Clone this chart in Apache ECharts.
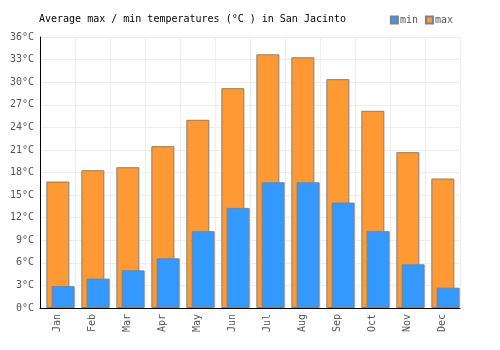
<!DOCTYPE html>
<html><head><meta charset="utf-8">
<script src="https://cdn.jsdelivr.net/npm/echarts@6/dist/echarts.min.js"></script>
<style>html,body{margin:0;padding:0;background:#fff}#c{width:500px;height:350px}</style>
</head><body><div id="c"></div>
<script>
const months = ['Jan','Feb','Mar','Apr','May','Jun','Jul','Aug','Sep','Oct','Nov','Dec'];
const minTemps = [2.9, 3.9, 5.0, 6.6, 10.2, 13.3, 16.7, 16.7, 14.0, 10.2, 5.8, 2.7];
const maxTemps = [16.8, 18.3, 18.7, 21.5, 25.0, 29.2, 33.7, 33.3, 30.4, 26.2, 20.7, 17.2];
const yTicks = [0, 3, 6, 9, 12, 15, 18, 21, 24, 27, 30, 33, 36];

const font = 'DejaVu Sans Mono';
const chart = echarts.init(document.getElementById('c'), null, {renderer: 'canvas'});
chart.setOption({
  animation: false,
  title: {
    text: 'Average max / min temperatures (°C ) in San Jacinto',
    left: 34, top: 9,
    textStyle: {fontFamily: font, fontSize: 10, fontWeight: 'normal', color: '#000'}
  },
  legend: {
    data: ['min', 'max'],
    right: 42, top: 10,
    icon: 'rect', itemWidth: 7, itemHeight: 7, itemGap: 7,
    textStyle: {fontFamily: font, fontSize: 10, color: '#555', padding: [0, 0, 0, -3]}
  },
  grid: [
    {left: 40, right: 40, top: 37, bottom: 42, containLabel: false},
    {left: 43, right: 37, top: 37, bottom: 42, containLabel: false}
  ],
  xAxis: [
    {
      type: 'category', data: months, gridIndex: 0,
      boundaryGap: true,
      axisLine: {lineStyle: {color: '#000', width: 1}},
      axisTick: {show: false},
      splitLine: {show: true, interval: 0, lineStyle: {color: '#eeeeee'}},
      axisLabel: {rotate: 90, interval: 0, fontFamily: font, fontSize: 10, color: '#555', margin: 6}
    },
    {
      type: 'category', data: months, gridIndex: 1, show: false
    }
  ],
  yAxis: [
    {
      type: 'value', gridIndex: 0, min: 0, max: 36, interval: 3,
      axisLine: {show: true, lineStyle: {color: '#000'}},
      axisTick: {show: false},
      splitLine: {show: true, lineStyle: {color: '#eeeeee'}},
      axisLabel: {fontFamily: font, fontSize: 10, color: '#555', margin: 6,
        formatter: v => yTicks.includes(v) ? v + '°C' : ''}
    },
    {
      type: 'value', gridIndex: 1, min: 0, max: 36, interval: 3, show: false,
      splitLine: {show: false}
    }
  ],
  series: [
    {
      name: 'max', type: 'bar', data: maxTemps, xAxisIndex: 1, yAxisIndex: 1,
      barWidth: 23, barGap: '-77%',
      itemStyle: {color: '#FF9933', borderColor: '#808080', borderWidth: 1}
    },
    {
      name: 'min', type: 'bar', data: minTemps, xAxisIndex: 1, yAxisIndex: 1,
      barWidth: 23, barGap: '-77%',
      itemStyle: {color: '#3399FF', borderColor: '#808080', borderWidth: 1}
    }
  ]
});
</script></body></html>
